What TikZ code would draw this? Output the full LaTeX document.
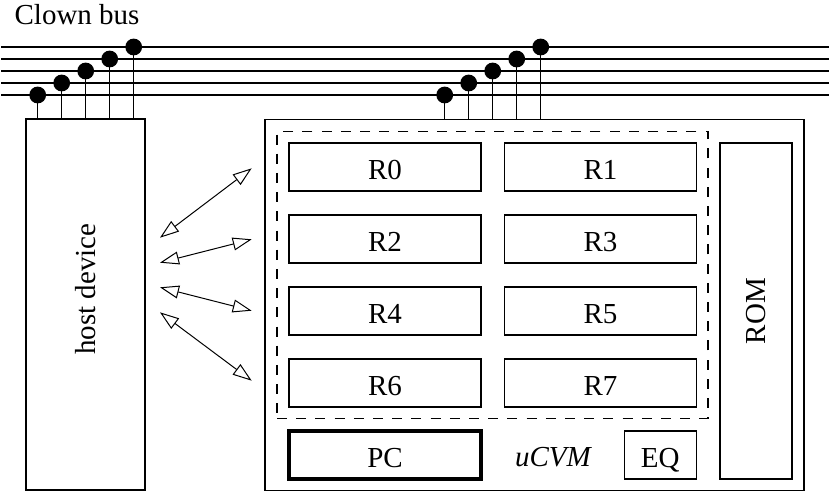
\documentclass[tikz,border=0pt]{standalone}
\usepackage{fontspec}
\setmainfont{Liberation Serif}
\usetikzlibrary{positioning, arrows.meta}

\begin{document}
\begin{tikzpicture}[x=0.5pt, y=-0.5pt, line width=0.6pt,
    every node/.style={font=\fontsize{14.5}{17}\selectfont, inner sep=0pt},
    reg/.style={rectangle, draw, outer sep=0pt, text height=12.6pt, text depth=0pt, minimum width=96pt, minimum height=24pt},
    busdot/.style={circle, fill, minimum size=8.4pt},
    link/.style={{Triangle[open, length=9.5pt, width=6.5pt]}-{Triangle[open, length=9.5pt, width=6.5pt]}, line width=0.5pt}]
    \useasboundingbox (0,0) rectangle (830,493);

    \node[anchor=base west] (title) at (14,24) {Clown bus};

    % bus lines
    \foreach \i in {0,...,4} {
        \coordinate (bl\i) at (1,47+12*\i);
        \coordinate (br\i) at (829,47+12*\i);
        \draw (bl\i) -- (br\i);
    }

    % host side
    \node[rectangle, draw, minimum width=59.5pt, minimum height=185.5pt] (host) at (85.5,304.5) {};
    \node[rotate=90] (hostlbl) at (85.5,289) {host device};

    % the machine
    \node[rectangle, draw, minimum width=269.5pt, minimum height=185.5pt] (ucvm) at (534.5,304.7) {};
    \node[rectangle, draw, dash pattern=on 5pt off 4.6pt, minimum width=215.5pt, minimum height=143.5pt] (regs) at (492.5,275) {};
    \node[reg] (r0) at (385,167) {R0};
    \node[reg, right=11.75pt of r0] (r1) {R1};
    \node[reg, below=12pt of r0] (r2) {R2};
    \node[reg, right=11.75pt of r2] (r3) {R3};
    \node[reg, below=12pt of r2] (r4) {R4};
    \node[reg, right=11.75pt of r4] (r5) {R5};
    \node[reg, below=12pt of r4] (r6) {R6};
    \node[reg, right=11.75pt of r6] (r7) {R7};
    \node[reg, line width=2pt, below=12pt of r6] (pc) {PC};
    \node[reg, minimum width=36pt] (eq) at (660.3,455) {EQ};
    \node[font=\fontsize{14.5}{17}\selectfont\itshape] (ucvmlbl) at (553,457) {uCVM};
    \node[rectangle, draw, rotate=90, minimum width=168pt, minimum height=36pt] (rom) at (756,311) {ROM};

    % taps on the bus
    \foreach \i in {0,...,4} {
        \node[busdot] (hd\i) at (37.7+24*\i,95-12*\i) {};
        \draw (hd\i.center) -- (hd\i.center |- host.north);
        \node[busdot] (ud\i) at (444.7+24*\i,95-12*\i) {};
        \draw (ud\i.center) -- (ud\i.center |- ucvm.north);
    }

    % host <-> registers
    \foreach \i/\ya/\yb in {0/237.7/168.3, 1/262.7/239.3, 2/287.3/310.7, 3/312.3/380.7} {
        \coordinate (ha\i) at (160,\ya);
        \coordinate (ra\i) at (251.7,\yb);
        \draw[link] (ha\i) -- (ra\i);
    }
\end{tikzpicture}
\end{document}
